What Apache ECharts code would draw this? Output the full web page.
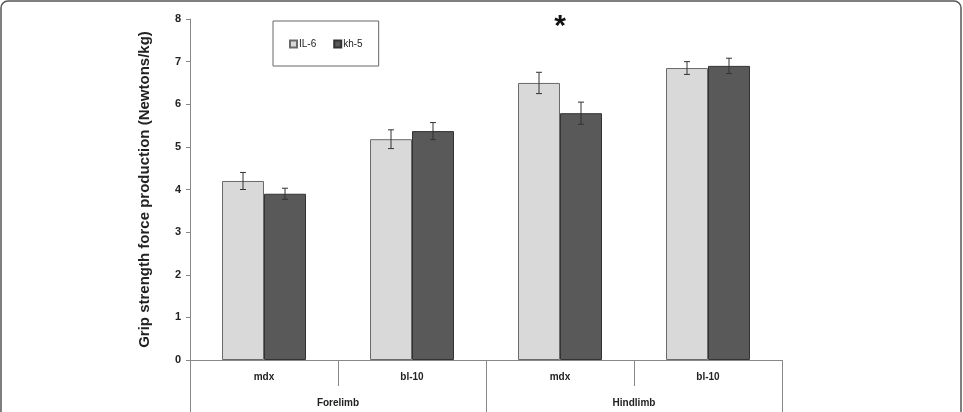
<!DOCTYPE html>
<html>
<head>
<meta charset="utf-8">
<script src="https://cdn.jsdelivr.net/npm/echarts@6/dist/echarts.min.js"></script>
<style>
  html, body { margin: 0; padding: 0; background: #fff; }
  #chart { width: 963px; height: 412px; }
</style>
</head>
<body>
<div id="chart"></div>
<script>
// data
var groups = ["mdx", "bl-10", "mdx", "bl-10"];
var limbs = ["Forelimb", "Hindlimb"];
var il6Mean = [4.2, 5.18, 6.5, 6.85];
var il6Err = [0.2, 0.22, 0.25, 0.15];
var kh5Mean = [3.9, 5.37, 5.79, 6.9];
var kh5Err = [0.13, 0.2, 0.26, 0.18];
var yTicks = [0, 8, 1]; // min, max, interval
var starAt = [2, 7.83]; // significance mark over Hindlimb mdx

var FONT = "Liberation Sans";
var BAR_W = 42;

function errData(means, errs) {
  return means.map(function (m, i) { return [i, m, errs[i]]; });
}

function errBars(shift) {
  return function (params, api) {
    var i = api.value(0), m = api.value(1), e = api.value(2);
    var hi = api.coord([i, m + e]);
    var lo = api.coord([i, m - e]);
    var x = hi[0] + shift;
    var st = { stroke: "#333", lineWidth: 1 };
    return {
      type: "group",
      children: [
        { type: "line", shape: { x1: x, y1: hi[1], x2: x, y2: lo[1] }, style: st },
        { type: "line", shape: { x1: x - 3, y1: hi[1], x2: x + 3, y2: hi[1] }, style: st },
        { type: "line", shape: { x1: x - 3, y1: lo[1], x2: x + 3, y2: lo[1] }, style: st }
      ]
    };
  };
}

var chart = echarts.init(document.getElementById("chart"));
chart.setOption({
  animation: false,
  textStyle: { fontFamily: FONT },
  grid: { left: 190, top: 19, right: 181, bottom: 52, containLabel: false },
  graphic: [
    {
      type: "rect",
      shape: { x: 1, y: 1, width: 960, height: 440, r: 7 },
      style: { fill: "none", stroke: "#555", lineWidth: 1.5 },
      silent: true
    }
  ],
  legend: {
    left: 273,
    top: 21,
    width: 109,
    height: 45,
    padding: [18, 16, 17, 16],
    borderColor: "#666",
    borderWidth: 1,
    itemWidth: 7,
    itemHeight: 7,
    itemGap: 17,
    icon: "rect",
    textStyle: { fontFamily: FONT, fontSize: 10, color: "#222", padding: [0, 0, 0, -3] },
    data: ["IL-6", "kh-5"]
  },
  xAxis: [
    {
      type: "category",
      data: groups,
      position: "bottom",
      axisLine: { lineStyle: { color: "#888", width: 1 } },
      axisTick: { show: true, interval: 0, length: 26, lineStyle: { color: "#888" } },
      axisLabel: { interval: 0, margin: 12, fontFamily: FONT, fontSize: 10, fontWeight: "bold", color: "#222" }
    },
    {
      type: "category",
      data: limbs,
      position: "bottom",
      offset: 0,
      axisLine: { show: false },
      axisTick: { show: true, interval: 0, length: 52, lineStyle: { color: "#888" } },
      axisLabel: { interval: 0, margin: 38, fontFamily: FONT, fontSize: 10, fontWeight: "bold", color: "#222" }
    }
  ],
  yAxis: {
    type: "value",
    min: yTicks[0],
    max: yTicks[1],
    interval: yTicks[2],
    name: "Grip strength force production (Newtons/kg)",
    nameLocation: "middle",
    nameGap: 38,
    nameTextStyle: { fontFamily: FONT, fontSize: 15, fontWeight: "bold", color: "#222" },
    axisLine: { show: true, lineStyle: { color: "#888" } },
    axisTick: { show: true, length: 4, lineStyle: { color: "#888" } },
    axisLabel: { margin: 9, fontFamily: FONT, fontSize: 11, fontWeight: "bold", color: "#222" },
    splitLine: { show: false }
  },
  series: [
    {
      name: "IL-6",
      type: "bar",
      data: il6Mean,
      barWidth: BAR_W,
      barGap: "0%",
      itemStyle: { color: "#d9d9d9", borderColor: "#6a6a6a", borderWidth: 1 }
    },
    {
      name: "kh-5",
      type: "bar",
      data: kh5Mean,
      barWidth: BAR_W,
      barGap: "0%",
      itemStyle: { color: "#595959", borderColor: "#333", borderWidth: 1 }
    },
    {
      type: "custom",
      data: errData(il6Mean, il6Err),
      renderItem: errBars(-BAR_W / 2),
      z: 5,
      markPoint: {
        symbol: "circle",
        symbolSize: 0,
        data: [{ coord: starAt }],
        label: {
          show: true,
          formatter: "*",
          fontFamily: FONT,
          fontSize: 30,
          fontWeight: "bold",
          color: "#111"
        }
      }
    },
    {
      type: "custom",
      data: errData(kh5Mean, kh5Err),
      renderItem: errBars(BAR_W / 2),
      z: 5
    }
  ]
});
</script>
</body>
</html>
